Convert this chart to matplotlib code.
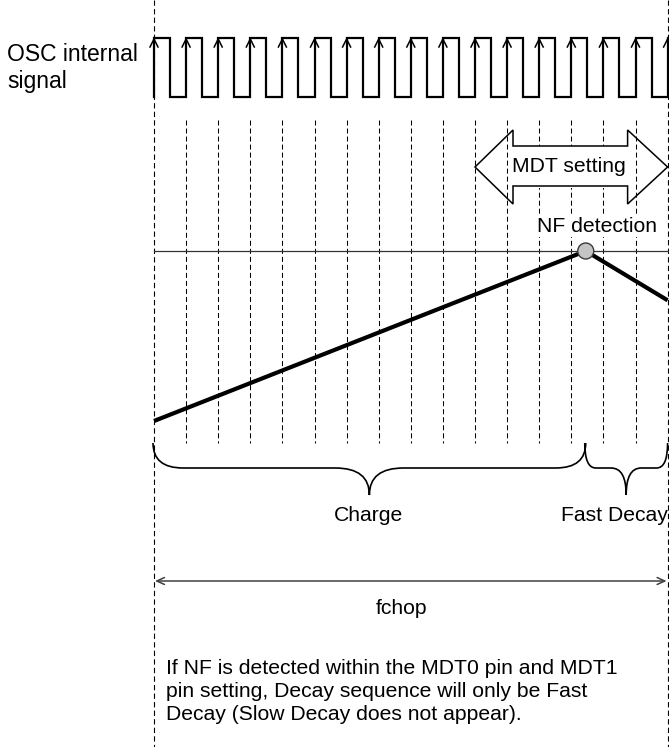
import matplotlib
matplotlib.use('Agg')
import matplotlib.pyplot as plt
import numpy as np
from matplotlib.path import Path
from matplotlib.patches import PathPatch, Polygon, Rectangle, Circle

plt.rcParams['font.family'] = ['Liberation Sans', 'DejaVu Sans']

# datos del diagrama (tiempo en periodos de reloj, corriente en unidades de umbral NF)
n_periodos = 16
ciclo_trabajo = 0.5
tiempo_corriente = [0.0, 13.45, 16.0]
nivel_corriente = [0.0, 1.0, 0.71]
umbral_nf = 1.0
mdt_inicio = 10.0
mdt_fin = 16.0
tramos = [(0.0, 13.45, 'Charge'), (13.45, 16.0, 'Fast Decay')]
etiqueta_osc = ['OSC internal', 'signal']
nota = ['If NF is detected within the MDT0 pin and MDT1',
        'pin setting, Decay sequence will only be Fast',
        'Decay (Slow Decay does not appear).']

# escala del dibujo en pixeles
X0 = 154.0
PERIODO = 32.1
Y_CERO = 421.0
PX_NIVEL = 170.0

def tx(t):
    return X0 + PERIODO * np.asarray(t, dtype=float)

def ly(n):
    return Y_CERO - PX_NIVEL * np.asarray(n, dtype=float)

fig = plt.figure(figsize=(6.69, 7.47), dpi=100)
ax = fig.add_axes([0, 0, 1, 1])
ax.set_xlim(0, 669)
ax.set_ylim(747, 0)
ax.axis('off')

guion = (0, (4.8, 2.9))

# lineas verticales de los bordes
for t in [0, n_periodos]:
    ax.plot([tx(t), tx(t)], [0, 747], color='k', lw=0.8, ls=guion, zorder=2)

# lineas de cada flanco de subida
for k in range(1, n_periodos):
    ax.plot([tx(k), tx(k)], [120, 443], color='k', lw=0.75, ls=guion, zorder=2)

# senal de reloj
alto, bajo = 38, 97
xs, ys = [], []
for k in range(n_periodos):
    xs += [tx(k), tx(k), tx(k + ciclo_trabajo), tx(k + ciclo_trabajo)]
    ys += [bajo, alto, alto, bajo]
xs += [tx(n_periodos), tx(n_periodos), tx(n_periodos) + 2]
ys += [bajo, alto, alto]
ax.plot(xs, ys, color='k', lw=1.6, solid_joinstyle='miter', zorder=3)
for k in range(n_periodos + 1):
    ax.plot([tx(k) - 4, tx(k), tx(k) + 4], [alto + 9, alto + 1, alto + 9],
            color='k', lw=1.1, zorder=4)

for i, linea in enumerate(etiqueta_osc):
    ax.text(7, 61 + 27 * i, linea, fontsize=16.5, ha='left', va='baseline')

# flecha doble MDT setting
xa, xb = tx(mdt_inicio), tx(mdt_fin)
yc = 167
ax.add_patch(Rectangle((xa + 38, yc - 21), (xb - 40) - (xa + 38), 42,
                       facecolor='white', edgecolor='none', zorder=3))
puntos = [(xa, yc), (xa + 38, yc - 37), (xa + 38, yc - 21), (xb - 40, yc - 21),
          (xb - 40, yc - 37), (xb, yc), (xb - 40, yc + 37), (xb - 40, yc + 19),
          (xa + 38, yc + 19), (xa + 38, yc + 37)]
ax.add_patch(Polygon(puntos, closed=True, facecolor='none', edgecolor='k',
                     lw=1.1, joinstyle='miter', zorder=4))
ax.text((xa + xb) / 2 - 2, yc, 'MDT setting', fontsize=15.2, ha='center', va='center', zorder=5)

# umbral NF y corriente
ax.plot([tx(0), tx(n_periodos)], [ly(umbral_nf), ly(umbral_nf)], color='#333333', lw=0.9, zorder=3)
ax.plot(tx(tiempo_corriente), ly(nivel_corriente), color='k', lw=3.0,
        solid_capstyle='butt', zorder=4)
ax.add_patch(Circle((tx(tiempo_corriente[1]), ly(umbral_nf)), 8, facecolor='#c4c4c4',
                    edgecolor='#3a3a3a', lw=1.0, zorder=5))
ax.text(597, 232, 'NF detection', fontsize=15.2, ha='center', va='baseline', zorder=5,
        bbox=dict(facecolor='white', edgecolor='none', pad=0.5))

# llaves
def llave(x0, x1, ytop, ymed, ypunta, r_ext, r_pta):
    xc = (x0 + x1) / 2
    v = [(x0, ytop), (x0, ymed), (x0 + r_ext, ymed),
         (xc - r_pta, ymed),
         (xc, ymed), (xc, ypunta),
         (xc, ymed), (xc + r_pta, ymed),
         (x1 - r_ext, ymed),
         (x1, ymed), (x1, ytop)]
    c = [Path.MOVETO, Path.CURVE3, Path.CURVE3, Path.LINETO,
         Path.CURVE3, Path.CURVE3, Path.CURVE3, Path.CURVE3,
         Path.LINETO, Path.CURVE3, Path.CURVE3]
    ax.add_patch(PathPatch(Path(v, c), facecolor='none', edgecolor='k', lw=1.2, zorder=4))

for (t0, t1, nombre) in tramos:
    ancho = tx(t1) - tx(t0)
    if ancho > 200:
        llave(tx(t0) - 1, tx(t1), 443, 468, 495, 30, 34)
        ax.text((tx(t0) + tx(t1)) / 2 - 1, 521, nombre, fontsize=15.2, ha='center', va='baseline')
    else:
        llave(tx(t0) - 1, tx(t1), 443, 468, 495, 11, 15)
        ax.text(tx(t1), 521, nombre, fontsize=15.2, ha='right', va='baseline')

# fchop
ax.annotate('', xy=(tx(n_periodos) - 1, 581), xytext=(tx(0) + 1, 581),
            arrowprops=dict(arrowstyle='<->,head_length=0.55,head_width=0.25',
                            color='#404040', lw=1.1, shrinkA=0, shrinkB=0))
ax.text(402, 614, 'fchop', fontsize=15.2, ha='center', va='baseline')

for i, linea in enumerate(nota):
    ax.text(166, 674 + 23 * i, linea, fontsize=15.2, ha='left', va='baseline')

plt.savefig('out.png', dpi=100)
